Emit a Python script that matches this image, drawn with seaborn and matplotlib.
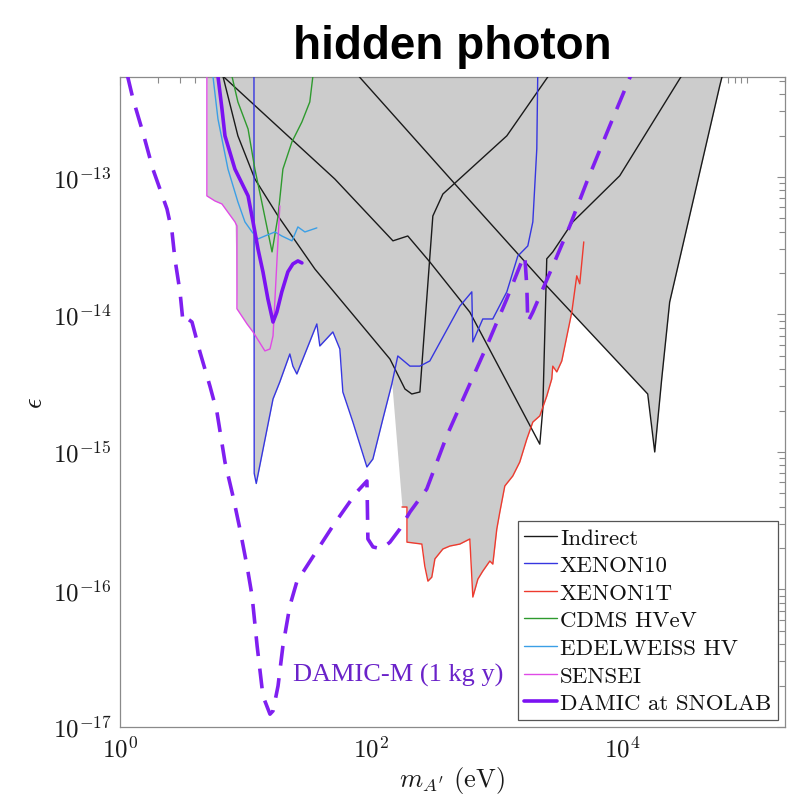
"""
Hidden photon exclusion plot: kinetic mixing epsilon vs. dark photon mass.
Curves are digitised by eye from the reference figure.
"""

import numpy as np
import matplotlib
matplotlib.use("Agg")
import matplotlib.pyplot as plt
import matplotlib.ticker as mticker
import seaborn as sns

# === data (mass in eV, epsilon) ===
# Indirect constraints: three separate curves
indirect1_m = [6.62, 8.71, 11.9, 18.2, 35.8, 142, 187, 212, 246, 312, 375, 1213, 2669]
indirect1_eps = [5.4e-13, 1.99e-13, 9.66e-14, 5.20e-14, 2.14e-14, 4.74e-15, 2.87e-15,
                 2.64e-15, 2.73e-15, 5.20e-14, 7.51e-14, 1.99e-13, 5.6e-13]

indirect2_m = [6.62, 51.6, 150, 197, 295, 615, 2222, 2348, 2525, 2820, 4074, 9640, 30600]
indirect2_eps = [5.4e-13, 9.66e-14, 3.43e-14, 3.72e-14, 2.41e-14, 1.04e-14, 1.14e-15,
                 2.06e-15, 2.54e-14, 2.85e-14, 4.71e-14, 1.02e-13, 5.6e-13]

indirect3_m = [77.3, 468, 2525, 16110, 18320, 20830, 24100, 60400, 63800]
indirect3_eps = [5.6e-13, 8.89e-14, 1.61e-14, 2.64e-15, 1.0e-15, 3.40e-15, 1.23e-14,
                 4.59e-13, 5.6e-13]

xenon10_m = [11.7, 11.75, 12.2, 16.6, 18.8, 22.6, 23.9, 25.7, 28.7, 37.1, 39.2, 49.8,
             56.6, 59.8, 71.9, 93.0, 103.8, 124.7, 147, 164, 205, 246, 295, 512, 638,
             650, 780, 937, 1213, 1484, 1783, 1955, 2103, 2142]
xenon10_eps = [6e-13, 7e-16, 5.9e-16, 2.43e-15, 3.23e-15, 5.16e-15, 4.21e-15, 3.69e-15,
               4.74e-15, 8.53e-15, 5.90e-15, 7.46e-15, 5.61e-15, 2.73e-15, 1.65e-15,
               7.78e-16, 8.89e-16, 1.74e-15, 3.13e-15, 4.99e-15, 4.21e-15, 4.21e-15,
               4.59e-15, 1.15e-14, 1.46e-14, 6.31e-15, 9.27e-15, 9.27e-15, 1.46e-14,
               2.66e-14, 3.15e-14, 4.71e-14, 1.60e-13, 6e-13]

xenon1t_m = [177, 194, 194, 255, 269, 285, 306, 324, 375, 426, 512, 615, 650, 713, 780,
             888, 938, 1009, 1067, 1169, 1353, 1538, 1750, 1955, 2222, 2525, 2768, 2820,
             3034, 3326, 3998, 4378, 4627, 4981]
xenon1t_eps = [3.98e-16, 3.98e-16, 2.21e-16, 2.14e-16, 1.48e-16, 1.15e-16, 1.23e-16,
               1.67e-16, 1.97e-16, 2.07e-16, 2.14e-16, 2.33e-16, 8.81e-17, 1.19e-16,
               1.36e-16, 1.61e-16, 1.53e-16, 2.75e-16, 3.66e-16, 5.66e-16, 6.69e-16,
               8.45e-16, 1.24e-15, 1.65e-15, 1.83e-15, 2.55e-15, 3.40e-15, 4.21e-15,
               3.82e-15, 4.59e-15, 1.04e-14, 1.91e-14, 1.67e-14, 3.37e-14]

cdms_m = [7.81, 8.71, 10.5, 11.9, 13.5, 16.3, 18.2, 19.9, 23.5, 28.2, 32.6, 34.5]
cdms_eps = [5.4e-13, 3.51e-13, 2.23e-13, 1.14e-13, 6.58e-14, 2.85e-14, 5.20e-14,
            1.14e-13, 1.80e-13, 2.51e-13, 3.51e-13, 5.4e-13]

edelweiss_m = [5.51, 6.04, 7.26, 8.71, 9.91, 11.3, 12.6, 14.3, 17.2, 19.5, 23.5, 26.2,
               29.8, 37.1]
edelweiss_eps = [5.4e-13, 2.64e-13, 1.14e-13, 6.58e-14, 4.71e-14, 3.98e-14, 3.54e-14,
                 3.72e-14, 3.98e-14, 3.72e-14, 3.43e-14, 4.33e-14, 3.98e-14, 4.26e-14]

sensei_m = [4.93, 4.93, 5.71, 6.50, 8.25, 8.56, 8.56, 10.3, 11.5, 14.3, 15.7, 16.6, 18.8]
sensei_eps = [5.6e-13, 7.28e-14, 6.69e-14, 6.36e-14, 4.71e-14, 4.40e-14, 1.10e-14,
              8.53e-15, 7.46e-15, 5.43e-15, 5.61e-15, 6.98e-15, 6.15e-14]

snolab_m = [6.04, 6.50, 6.87, 8.25, 10.5, 11.5, 12.6, 13.8, 15.1, 16.6, 17.8, 19.5, 21.8,
            23.9, 26.2, 28.2]
snolab_eps = [5.4e-13, 3.13e-13, 1.99e-13, 1.14e-13, 7.28e-14, 4.71e-14, 2.99e-14,
              2.04e-14, 1.30e-14, 8.81e-15, 1.04e-14, 1.46e-14, 2.04e-14, 2.33e-14,
              2.45e-14, 2.37e-14]

damicm_m = [1.15, 1.27, 1.52, 1.83, 2.37, 2.60, 2.74, 3.01, 3.18, 3.48, 3.75, 4.34, 5.21,
            5.93, 6.87, 7.95, 9.04, 10.3, 11.3, 12.4, 13.8, 15.7, 16.6, 18.2, 19.9, 22.6,
            25.7, 30.9, 39.2, 49.8, 64.4, 77.3, 93.0, 93.6, 94.7, 104, 122, 142, 170,
            205, 279, 403, 531, 840, 1213, 1625, 1687, 1750, 1783, 1955, 2348, 2820,
            3853, 5265, 8020, 11580, 12500]
damicm_eps = [5.4e-13, 3.69e-13, 2.12e-13, 1.14e-13, 5.85e-14, 3.98e-14, 2.54e-14,
              1.46e-14, 8.81e-15, 9.27e-15, 8.81e-15, 5.33e-15, 3.02e-15, 1.95e-15,
              8.45e-16, 4.79e-16, 2.75e-16, 1.48e-16, 8.97e-17, 3.88e-17, 1.68e-17,
              1.24e-17, 1.31e-17, 1.99e-17, 3.88e-17, 7.59e-17, 1.14e-16, 1.48e-16,
              2.07e-16, 2.90e-16, 4.05e-16, 5.12e-16, 6.15e-16, 4.55e-16, 2.33e-16,
              2.04e-16, 1.97e-16, 2.21e-16, 2.75e-16, 3.66e-16, 5.38e-16, 1.31e-15,
              2.31e-15, 5.90e-15, 1.30e-14, 2.54e-14, 2.66e-14, 1.61e-14, 8.81e-15,
              1.04e-14, 1.53e-14, 2.25e-14, 4.40e-14, 9.20e-14, 2.35e-13, 5.25e-13, 6e-13]

# lower edge of the shaded (excluded) region: SENSEI edge, XENON10, XENON1T, indirect
sensei_edge_m = [4.93, 4.93, 5.71, 6.50, 8.25, 8.56, 10.3, 11.5, 11.7]
sensei_edge_eps = [6e-13, 7.28e-14, 6.69e-14, 6.36e-14, 4.71e-14, 1.10e-14, 8.53e-15,
                   7.46e-15, 7.3e-15]
shade_m = (sensei_edge_m + xenon10_m[1:19] + xenon1t_m[:31] + indirect3_m[3:])
shade_eps = (sensei_edge_eps + xenon10_eps[1:19] + xenon1t_eps[:31] + indirect3_eps[3:])

x_major = [1, 1e2, 1e4]
y_major = [1e-17, 1e-16, 1e-15, 1e-14, 1e-13]

# === style ===
sns.set_theme(style="white")
plt.rcParams["font.family"] = "serif"
plt.rcParams["font.serif"] = ["cmr10", "DejaVu Serif"]
plt.rcParams["mathtext.fontset"] = "cm"
plt.rcParams["axes.formatter.use_mathtext"] = True
plt.rcParams["text.color"] = "#111111"

FRAME = "#8a8a8a"

fig = plt.figure(figsize=(7.94, 8.04), dpi=100)
ax = fig.add_axes([0.1511, 0.0945, 0.8375, 0.8085])
ax.set_xscale("log")
ax.set_yscale("log")

# === plot ===
ax.fill_between(shade_m, shade_eps, 1e-12, color="#cccccc", lw=0, zorder=1)

thin = 1.0
sns.lineplot(x=indirect1_m, y=indirect1_eps, sort=False, estimator=None, ax=ax,
             color="#1a1a1a", lw=thin, label="Indirect", zorder=3)
sns.lineplot(x=indirect2_m, y=indirect2_eps, sort=False, estimator=None, ax=ax,
             color="#1a1a1a", lw=thin, zorder=3)
sns.lineplot(x=indirect3_m, y=indirect3_eps, sort=False, estimator=None, ax=ax,
             color="#1a1a1a", lw=thin, zorder=3)
sns.lineplot(x=xenon10_m, y=xenon10_eps, sort=False, estimator=None, ax=ax,
             color="#3636e0", lw=thin, label="XENON10", zorder=3)
sns.lineplot(x=xenon1t_m, y=xenon1t_eps, sort=False, estimator=None, ax=ax,
             color="#ee3a2e", lw=thin, label="XENON1T", zorder=3)
sns.lineplot(x=cdms_m, y=cdms_eps, sort=False, estimator=None, ax=ax,
             color="#2e9a2e", lw=thin, label="CDMS HVeV", zorder=3)
sns.lineplot(x=edelweiss_m, y=edelweiss_eps, sort=False, estimator=None, ax=ax,
             color="#3b9fe6", lw=thin, label="EDELWEISS HV", zorder=3)
sns.lineplot(x=sensei_m, y=sensei_eps, sort=False, estimator=None, ax=ax,
             color="#e04ae6", lw=thin, label="SENSEI", zorder=3)
sns.lineplot(x=snolab_m, y=snolab_eps, sort=False, estimator=None, ax=ax,
             color="#7b12f2", lw=2.6, label="DAMIC at SNOLAB", zorder=4)
sns.lineplot(x=damicm_m, y=damicm_eps, sort=False, estimator=None, ax=ax,
             color="#7f1ff0", lw=2.6, linestyle=(0, (5.5, 3.5)), zorder=5)

ax.text(23.9, 2.16e-17, "DAMIC-M (1 kg y)", color="#6a22c9", fontsize=19,
        family="Liberation Serif", va="baseline", ha="left", zorder=6)

# === axes ===
ax.set_xlim(1, 2e5)
ax.set_ylim(1e-17, 5.33e-13)
ax.xaxis.set_major_locator(mticker.FixedLocator(x_major))
ax.xaxis.set_minor_locator(mticker.LogLocator(base=10, subs=np.arange(1, 10), numticks=30))
ax.yaxis.set_major_locator(mticker.FixedLocator(y_major))
ax.yaxis.set_minor_locator(mticker.LogLocator(base=10, subs=np.arange(2, 10), numticks=30))
ax.xaxis.set_major_formatter(mticker.LogFormatterSciNotation())
ax.yaxis.set_major_formatter(mticker.LogFormatterSciNotation())
ax.xaxis.set_minor_formatter(mticker.NullFormatter())
ax.yaxis.set_minor_formatter(mticker.NullFormatter())
ax.tick_params(which="both", direction="in", top=True, right=True, color=FRAME,
               labelsize=18, labelcolor="#1a1a1a", width=0.8)
ax.tick_params(which="major", length=6, pad=6)
ax.tick_params(which="minor", length=4)
for sp in ax.spines.values():
    sp.set_color(FRAME)
    sp.set_linewidth(0.9)

ax.set_xlabel(r"$m_{A'}$ (eV)", fontsize=19, color="#1a1a1a", labelpad=2)
ax.set_ylabel(r"$\epsilon$", fontsize=19, color="#1a1a1a", labelpad=4)
ax.set_title("hidden photon", fontsize=33, fontweight="bold", color="black",
             family="Liberation Sans", pad=14)

leg = ax.legend(loc="lower right", fontsize=16.5, frameon=True, fancybox=False,
                edgecolor="#555555", framealpha=1, handlelength=1.4,
                handletextpad=0.15, labelspacing=0.33, borderpad=0.3,
                borderaxespad=0.3)
leg.get_frame().set_linewidth(0.9)
for txt in leg.get_texts():
    txt.set_color("#111111")
leg.set_zorder(10)

fig.savefig("out.png", dpi=100)
